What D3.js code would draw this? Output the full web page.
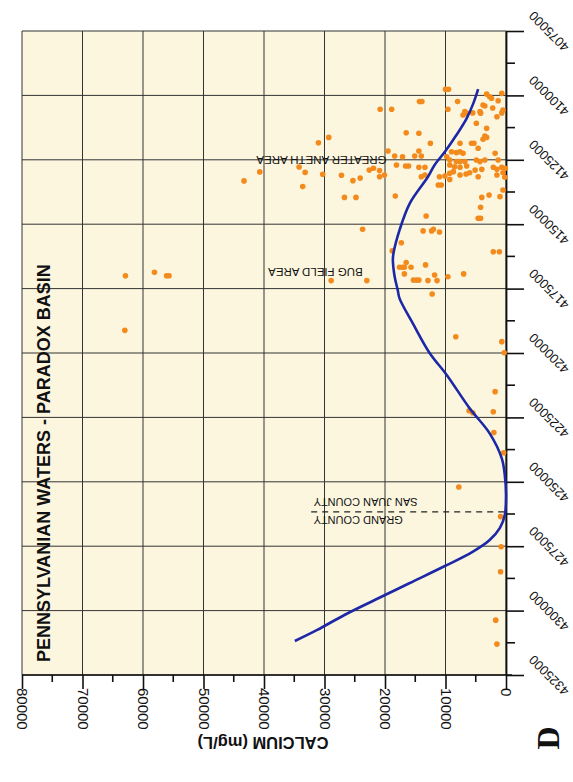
<!DOCTYPE html>
<html><head><meta charset="utf-8">
<script src="https://cdn.jsdelivr.net/npm/d3@7"></script>
<style>body{margin:0;background:#fff}text{font-family:"Liberation Sans",Arial,sans-serif}</style></head>
<body><svg id="c" width="573" height="782"></svg>
<script>
// ---------- data ----------
const calciumTicks = [0,10000,20000,30000,40000,50000,60000,70000,80000];
const calciumMinorTicks = [5000,15000,25000,35000,45000,55000,65000,75000];
const northingTicks = [4075000,4100000,4125000,4150000,4175000,4200000,4225000,4250000,4275000,4300000,4325000];
const northingMinorTicks = [4087500,4112500,4137500,4162500,4187500,4212500,4237500,4262500,4287500,4312500];

const sampleNorthing = [4097600,4097600,4102400,4102400,4102400,4105400,4105400,4105400,4099500,4100500,
 4101100,4099200,4102100,4103700,4104100,4104900,4105700,4106800,4106300,4106900,
 4107600,4106300,4106900,4106800,4108300,4110800,4112800,4114500,4114700,4115800,
 4116300,4117000,4118600,4118600,4118600,4118600,4120500,4122500,4121600,4121600,
 4123500,4123500,4121900,4122200,4121900,4122500,4123500,4123800,4123800,4125100,
 4125700,4125700,4125700,4125100,4125700,4125100,4125100,4127000,4127400,4127400,
 4127000,4127700,4127900,4127400,4127900,4127900,4129000,4128700,4127900,4128700,
 4127900,4128300,4128300,4129000,4129200,4130200,4129600,4130900,4130000,4130900,
 4131600,4131600,4130900,4131600,4131300,4131600,4130900,4118400,4116300,4129700,
 4133200,4127800,4129900,4130600,4131000,4133100,4132100,4135400,4139600,4139600,
 4134800,4134800,4132600,4130500,4130000,4131800,4139100,4146800,4139600,4138700,
 4139300,4136700,4143400,4147700,4147700,4152000,4152600,4152600,4152000,4153000,
 4157200,4160300,4160700,4160700,4164900,4166700,4166700,4166700,4166700,4165800,
 4169300,4169700,4170400,4169300,4171900,4171900,4171700,4171700,4171700,4171900,
 4171900,4177100,4193700,4195600,4199900,4215000,4222400,4223200,4222800,4230900,
 4238700,4170000,4168700,4170000,4170000,4191200,4252000,4263500,4275200,4284900,
 4303700,4313000];
const sampleCalcium = [10000,9500,14300,13900,8000,20800,18900,9600,3200,2700,
 2400,700,1300,3800,3500,2200,500,700,6800,6500,
 7100,4300,4200,5500,1500,4900,3200,16500,14400,3500,
 3200,3800,12500,7600,5700,5300,4600,1800,19500,14400,
 15100,14000,9000,8200,7600,7100,18400,17100,9800,9300,
 8200,7600,6800,4900,4300,3500,1300,18100,16600,16100,
 9300,8500,7600,6500,14400,13400,5100,4000,2100,1500,
 700,100,21900,22600,20900,9300,8700,7600,6000,13400,
 14000,20900,20100,11000,10100,4600,1500,31000,29300,40700,
 43300,34200,33200,30300,27200,25300,24100,33600,26700,24800,
 11200,10700,9300,6600,500,200,18300,13200,4000,2800,
 1000,500,4200,4600,4200,23700,13700,12300,12000,11000,
 17300,18800,2100,1100,16500,17600,17100,16800,15700,13300,
 16800,11800,9600,7000,23000,28900,15300,14800,14400,12900,
 11400,12200,8300,700,300,1800,6100,5500,2100,2000,
 400,62900,58100,56100,55700,63000,7800,900,800,900,
 1700,1500];

const trendNorthing = [4097600,4103100,4108900,4115400,4121900,4127000,4131600,4141900,4152300,4161300,
 4163900,4170400,4175500,4178800,4188500,4200100,4208500,4221500,4231200,4240900,
 4247400,4255100,4262900,4267900,4272600,4277300,4282700,4289300,4295900,4301700,
 4307500,4311800];
const trendCalcium = [4600,5400,6500,8200,10100,11800,12900,15900,17600,18600,
 18700,18400,17900,17600,15400,12600,9800,6000,2700,700,
 200,0,200,1000,2700,5600,10100,15900,21700,26700,
 31200,34900];

const titleText = "PENNSYLVANIAN WATERS - PARADOX BASIN";
const calciumLabel = "CALCIUM (mg/L)";
const panelLetter = "D";
const areaLabels = ["GREATER ANETH AREA","BUG FIELD AREA"];
const areaNorthing = [4125100,4168600];
const areaCalcium = [30500,31500];
const countyLabels = ["SAN JUAN COUNTY","GRAND COUNTY"];
const countyNorthing = [4257800,4264800];
const countyLineNorthing = 4261700;
const countyLabelCalcium = 31800;
const countyLineCalcium = [32200,0];

// ---------- drawing ----------
const svg = d3.select("#c");
const x = d3.scaleLinear().domain([80000,0]).range([22,506]);
const y = d3.scaleLinear().domain([4075000,4325000]).range([31,675]);

svg.append("rect").attr("x",x(80000)).attr("y",y(4075000))
  .attr("width",x(0)-x(80000)).attr("height",y(4325000)-y(4075000))
  .attr("fill","#fcf6df");

const grid = svg.append("g").attr("stroke","#333").attr("stroke-width",1);
grid.selectAll(".gv").data(calciumTicks).join("line")
  .attr("x1",d=>x(d)).attr("x2",d=>x(d)).attr("y1",y(4075000)).attr("y2",y(4325000));
grid.selectAll(".gh").data(northingTicks).join("line")
  .attr("y1",d=>y(d)).attr("y2",d=>y(d)).attr("x1",x(80000)).attr("x2",x(0));

// bottom axis (calcium)
const ax = svg.append("g").attr("transform",`translate(0,${y(4325000)})`)
  .call(d3.axisBottom(x).tickValues(calciumTicks).tickSize(14).tickSizeOuter(0).tickFormat(d3.format("d")));
ax.select(".domain").attr("stroke","#111").attr("stroke-width",1.6).attr("d",`M${x(80000)},0H${x(0)+6}`);
ax.selectAll(".tick line").attr("stroke","#111").attr("stroke-width",1.6);
ax.selectAll(".tick text").attr("transform","rotate(90)").attr("x",13).attr("y",0)
  .attr("dy","0.35em").attr("text-anchor","start").attr("font-size",15).attr("fill","#111")
  .style("font-family","'Liberation Sans',Arial,sans-serif");
svg.append("g").selectAll("line").data(calciumMinorTicks).join("line")
  .attr("x1",d=>x(d)).attr("x2",d=>x(d)).attr("y1",y(4325000)).attr("y2",y(4325000)+7)
  .attr("stroke","#111").attr("stroke-width",1.6);

// right axis (northing)
const ay = svg.append("g").attr("transform",`translate(${x(0)},0)`)
  .call(d3.axisRight(y).tickValues(northingTicks).tickSize(18).tickSizeOuter(0).tickFormat(d3.format("d")));
ay.select(".domain").attr("stroke","#111").attr("stroke-width",1.8);
ay.selectAll(".tick line").attr("stroke","#111").attr("stroke-width",1.6);
ay.selectAll(".tick text").attr("x",0).attr("dy",0)
  .attr("transform","translate(43,0) rotate(225)").attr("text-anchor","middle")
  .attr("dominant-baseline","central").attr("font-size",13).attr("fill","#111")
  .style("font-family","'Liberation Sans',Arial,sans-serif");
svg.append("g").selectAll("line").data(northingMinorTicks).join("line")
  .attr("y1",d=>y(d)).attr("y2",d=>y(d)).attr("x1",x(0)).attr("x2",x(0)+9)
  .attr("stroke","#111").attr("stroke-width",1.6);

// county boundary
svg.append("line").attr("x1",x(countyLineCalcium[0])).attr("x2",x(countyLineCalcium[1]))
  .attr("y1",y(countyLineNorthing)).attr("y2",y(countyLineNorthing))
  .attr("stroke","#222").attr("stroke-width",1.2).attr("stroke-dasharray","6,5");

// samples
svg.append("g").selectAll("circle").data(sampleNorthing).join("circle")
  .attr("cx",(d,i)=>x(sampleCalcium[i])).attr("cy",d=>y(d)).attr("r",2.8)
  .attr("fill","#f38a1c");

// trend
const pts = trendNorthing.map((n,i)=>[n,trendCalcium[i]]);
svg.append("path").datum(pts)
  .attr("d",d3.line().x(d=>x(d[1])).y(d=>y(d[0])).curve(d3.curveCatmullRom.alpha(0.5)))
  .attr("fill","none").attr("stroke","#1c28a6").attr("stroke-width",2.6);

// texts
svg.append("text").attr("transform",`translate(43.5,662) rotate(-90)`)
  .attr("text-anchor","start").attr("dominant-baseline","central")
  .attr("font-size",18).attr("font-weight","bold").attr("fill","#111").text(titleText);

areaLabels.forEach((t,i)=>{
  svg.append("text").attr("transform",`translate(${x(areaCalcium[i])},${y(areaNorthing[i])}) rotate(180)`)
    .attr("text-anchor","middle").attr("dominant-baseline","central")
    .attr("font-size",11.5).attr("fill","#111").text(t);
});
countyLabels.forEach((t,i)=>{
  svg.append("text").attr("transform",`translate(${x(countyLabelCalcium)},${y(countyNorthing[i])}) rotate(180)`)
    .attr("text-anchor","end").attr("dominant-baseline","central")
    .attr("font-size",11).attr("fill","#111").text(t);
});

svg.append("text").attr("transform","translate(263,743) rotate(180)")
  .attr("text-anchor","middle").attr("dominant-baseline","central")
  .attr("font-size",16.5).attr("font-weight","bold").attr("fill","#111").text(calciumLabel);

svg.append("text").attr("transform","translate(548,738) rotate(-90)")
  .attr("text-anchor","middle").attr("dominant-baseline","central")
  .style("font-family","'Liberation Serif','DejaVu Serif',serif")
  .attr("font-size",32).attr("font-weight","bold").attr("fill","#111").text(panelLetter);
</script></body></html>
